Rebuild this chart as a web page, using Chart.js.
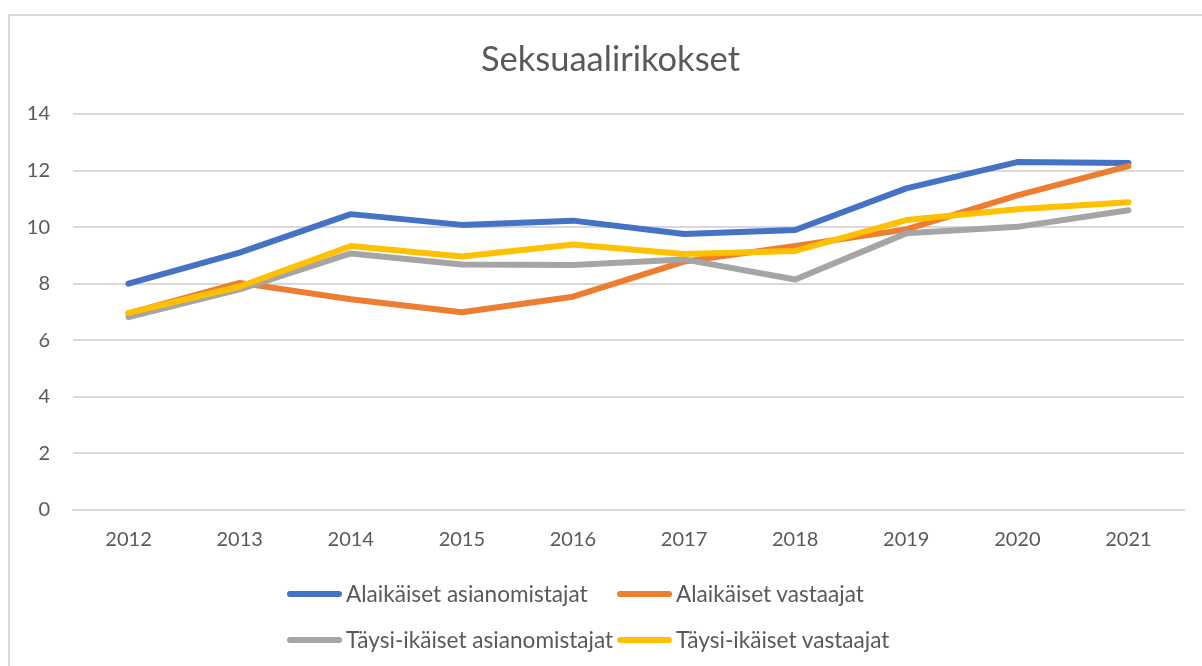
<!DOCTYPE html>
<html>
<head>
<meta charset="utf-8">
<script src="https://cdn.jsdelivr.net/npm/chart.js@4/dist/chart.umd.min.js"></script>
<style>
  html, body { margin: 0; padding: 0; background: #ffffff; }
  #wrap { position: relative; width: 1202px; height: 666px; overflow: hidden; background: #fff; }
  #frame { position: absolute; left: 8px; top: 14px; width: 1300px; height: 800px; border: 2px solid #d9d9d9; box-sizing: border-box; }
  #c { position: absolute; left: 0; top: 0; }
  #title { position: absolute; left: 0; top: 37px; width: 1221px; text-align: center; font-family: Lato, "Open Sans", sans-serif; font-size: 34.5px; line-height: 1.2; font-weight: 400; color: #595959; white-space: nowrap; }
  .leg { position: absolute; font-family: Lato, "Open Sans", sans-serif; font-size: 22.6px; color: #595959; white-space: nowrap; height: 28px; line-height: 28px; display: flex; align-items: center; }
  .leg .sw { display: inline-block; width: 55px; height: 6px; border-radius: 3px; margin-right: 4px; flex: none; }
</style>
</head>
<body>
<div id="wrap">
  <div id="frame"></div>
  <canvas id="c" width="1202" height="666"></canvas>
  <div id="title"></div>
  <div id="legend"></div>
</div>
<script>
const title = "Seksuaalirikokset";
const years = ["2012", "2013", "2014", "2015", "2016", "2017", "2018", "2019", "2020", "2021"];
const seriesNames = ["Alaikäiset asianomistajat", "Alaikäiset vastaajat", "Täysi-ikäiset asianomistajat", "Täysi-ikäiset vastaajat"];
const alaikaisetAsianomistajat = [8.0, 9.1, 10.46, 10.08, 10.23, 9.76, 9.9, 11.37, 12.3, 12.27];
const alaikaisetVastaajat = [6.95, 8.03, 7.45, 6.99, 7.54, 8.78, 9.33, 9.92, 11.12, 12.16];
const taysiAsianomistajat = [6.82, 7.8, 9.07, 8.68, 8.66, 8.86, 8.15, 9.78, 10.01, 10.6];
const taysiVastaajat = [6.97, 7.9, 9.33, 8.96, 9.39, 9.05, 9.16, 10.25, 10.63, 10.88];
const colors = ["#4472C4", "#ED7D31", "#A5A5A5", "#FFC000"];
const yMin = 0, yMax = 14, yStep = 2;

const allSeries = [alaikaisetAsianomistajat, alaikaisetVastaajat, taysiAsianomistajat, taysiVastaajat];

document.getElementById('title').textContent = title;

const datasets = allSeries.map((vals, i) => ({
  label: seriesNames[i],
  data: vals,
  borderColor: colors[i],
  backgroundColor: colors[i],
  borderWidth: 6,
  pointRadius: 0,
  pointHoverRadius: 0,
  tension: 0,
  borderCapStyle: 'round',
  borderJoinStyle: 'round',
  fill: false,
  order: allSeries.length - i
}));

const tickColor = '#595959';
const fontFamily = 'Lato, "Open Sans", sans-serif';

new Chart(document.getElementById('c'), {
  type: 'line',
  data: { labels: years, datasets },
  options: {
    responsive: false,
    animation: false,
    devicePixelRatio: 1,
    layout: { padding: { left: 0, right: 18, top: 114, bottom: 114 } },
    plugins: {
      legend: { display: false },
      tooltip: { enabled: false },
      title: { display: false }
    },
    scales: {
      x: {
        offset: true,
        grid: { display: false, drawTicks: false },
        border: { display: true, color: '#d9d9d9', width: 2 },
        ticks: { color: tickColor, font: { family: fontFamily, size: 20 }, padding: 18, maxRotation: 0, autoSkip: false },
        afterFit: (s) => { s.height = 42; }
      },
      y: {
        min: yMin,
        max: yMax,
        grid: { color: '#d9d9d9', lineWidth: 2, drawTicks: false },
        border: { display: false },
        ticks: { stepSize: yStep, color: tickColor, font: { family: fontFamily, size: 20 }, padding: 23 },
        afterFit: (s) => { s.width = 73; }
      }
    }
  }
});

// legend (two columns, Excel-style grid)
const legendEl = document.getElementById('legend');
const colX = [287, 617];
const rowY = [594, 640];
seriesNames.forEach((name, i) => {
  const d = document.createElement('div');
  d.className = 'leg';
  d.style.left = colX[i % 2] + 'px';
  d.style.top = (rowY[Math.floor(i / 2)] - 14) + 'px';
  const sw = document.createElement('span');
  sw.className = 'sw';
  sw.style.background = colors[i];
  d.appendChild(sw);
  const t = document.createElement('span');
  t.textContent = name;
  d.appendChild(t);
  legendEl.appendChild(d);
});
</script>
</body>
</html>
